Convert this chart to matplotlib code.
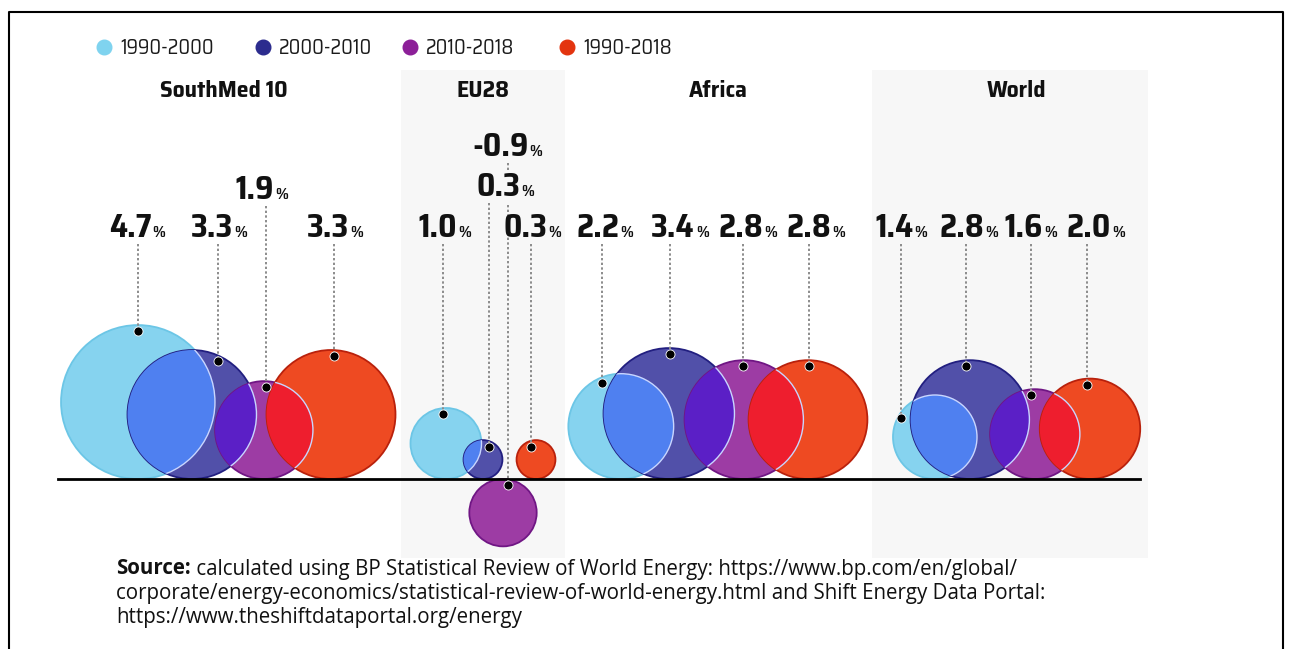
import matplotlib
matplotlib.use("Agg")
import matplotlib.pyplot as plt
import numpy as np
from matplotlib.patches import Circle, Rectangle

# growth rates (% per year) by region and period
groups = ["SouthMed 10", "EU28", "Africa", "World"]
periods = ["1990-2000", "2000-2010", "2010-2018", "1990-2018"]
southmed = [4.7, 3.3, 1.9, 3.3]
eu28 = [1.0, 0.3, -0.9, 0.3]
africa = [2.2, 3.4, 2.8, 2.8]
world = [1.4, 2.8, 1.6, 2.0]
values = [southmed, eu28, africa, world]

# layout (pixels): bubble centres, pin lines, label centres / baselines
bubble_x = [[138, 192, 264, 331], [446, 483, 503, 536],
            [621, 669, 744, 808], [935, 970, 1035, 1090]]
pin_x = [[138, 218, 266, 334], [443, 489, 508, 531],
         [602, 670, 743, 809], [901, 966, 1031, 1087]]
label_x = [[137, 219, 262, 335], [445, 505, 507, 532],
           [605, 680, 748, 816], [901, 969, 1031, 1096]]
label_y = [[237, 237, 199, 237], [237, 196, 156, 237],
           [237, 237, 237, 237], [237, 237, 237, 237]]
title_x = [224, 483, 718, 1016]
bands = [(401, 565), (872, 1148)]

BASE_Y = 479
R_SCALE = 35.5          # radius = R_SCALE * sqrt(|value|), area ~ value
PIN_INSET = 6

fill = ["#86d3ef", "#5150a9", "#9d3ca4", "#ee4a22"]
edge = ["#6cc6e6", "#221f80", "#701684", "#b9210c"]
legend_col = ["#7fd3ef", "#2c2c8e", "#8c1f98", "#e3340f"]
overlap_col = {(0, 1): "#4f80f0", (1, 2): "#5b1fc6", (2, 3): "#ee1e2e"}

num_font = ["Saira SemiCondensed", "DejaVu Sans"]
src_font = ["Open Sans", "DejaVu Sans"]

fig = plt.figure(figsize=(12.95, 6.49), dpi=100)
ax = fig.add_axes([0, 0, 1, 1])
ax.set_xlim(0, 1295)
ax.set_ylim(649, 0)
ax.axis("off")
renderer = fig.canvas.get_renderer()

# frame
ax.plot([9, 9, 1283, 1283], [649, 12, 12, 649], color="black", lw=1.5, zorder=0)

# grey panels behind EU28 and World
for x0, x1 in bands:
    ax.add_patch(Rectangle((x0, 70), x1 - x0, 488, facecolor="#f7f7f7",
                           edgecolor="none", zorder=0))

# legend
legend_x = [104, 263, 410, 567]
for lx, lab, c in zip(legend_x, periods, legend_col):
    ax.plot(lx, 47, "o", ms=10.5, color=c, mec=c, zorder=5)
    ax.text(lx + 16, 47.5, lab, fontsize=14.5, va="center", ha="left",
            color="#1a1a1a", family=num_font, fontweight=400)

# group titles
for tx, g in zip(title_x, groups):
    ax.text(tx, 91, g, fontsize=17, fontweight="bold", ha="center",
            va="center", family=num_font, color="#111111")

ax.plot([58, 1140], [BASE_Y, BASE_Y], color="black", lw=2, zorder=3)


def pct_label(cx, y, val):
    t1 = ax.text(0, y, f"{val:.1f}", fontsize=23, fontweight="bold",
                 ha="left", va="baseline", family=num_font, color="#111111",
                 zorder=8)
    t2 = ax.text(0, y, "%", fontsize=11.5, fontweight="bold", ha="left",
                 va="baseline", family=num_font, color="#111111", zorder=8)
    w1 = t1.get_window_extent(renderer).width
    w2 = t2.get_window_extent(renderer).width
    x0 = cx - (w1 + w2 + 1) / 2
    t1.set_x(x0)
    t2.set_x(x0 + w1 + 1)
    return t1


for gi, vals in enumerate(values):
    circles = []
    for i, v in enumerate(vals):
        r = R_SCALE * np.sqrt(abs(v))
        cy = BASE_Y - r if v >= 0 else BASE_Y + r
        c = Circle((bubble_x[gi][i], cy), r, facecolor=fill[i],
                   edgecolor=edge[i], lw=1.3, zorder=2 + i * 0.1)
        ax.add_patch(c)
        circles.append((c, bubble_x[gi][i], cy, r))

    # overlap lenses between neighbouring bubbles
    for (i, j), oc in overlap_col.items():
        ci, xi, yi, ri = circles[i]
        cj, xj, yj, rj = circles[j]
        if np.hypot(xi - xj, yi - yj) < ri + rj:
            lens = Circle((xi, yi), ri, facecolor=oc, edgecolor="#c9d6ff",
                          lw=1.0, zorder=2.5 + j * 0.1)
            ax.add_patch(lens)
            lens.set_clip_path(cj)

    # pins and value labels
    for i, v in enumerate(vals):
        c, cx, cy, r = circles[i]
        px = pin_x[gi][i]
        dx = px - cx
        h = np.sqrt(max(r ** 2 - dx ** 2, 0))
        py = cy - h + PIN_INSET
        ly = label_y[gi][i]
        ax.plot([px, px], [ly + 7, py], color="#8c8c8c", lw=1.4,
                ls=(0, (1.2, 1.2)), zorder=4)
        ax.plot(px, py, "o", ms=6.5, color="black", mec="white", mew=0.6,
                zorder=6)
        t = pct_label(label_x[gi][i], ly, v)
        if gi == 1 and i == 1:
            t.set_bbox(dict(facecolor="#f7f7f7", edgecolor="none", pad=1))

# source note
FS = 14.8
s1 = ax.text(116, 569, "Source:", fontsize=FS, fontweight="bold", va="center",
             ha="left", family=src_font, color="#111111")
w = s1.get_window_extent(renderer).width
ax.text(116 + w, 569,
        " calculated using BP Statistical Review of World Energy: "
        "https://www.bp.com/en/global/",
        fontsize=FS, va="center", ha="left", family=src_font, color="#111111")
ax.text(116, 593,
        "corporate/energy-economics/statistical-review-of-world-energy.html "
        "and Shift Energy Data Portal:",
        fontsize=FS, va="center", ha="left", family=src_font, color="#111111")
ax.text(116, 618, "https://www.theshiftdataportal.org/energy",
        fontsize=FS, va="center", ha="left", family=src_font, color="#111111")

fig.savefig("out.png", dpi=100, facecolor="white")
